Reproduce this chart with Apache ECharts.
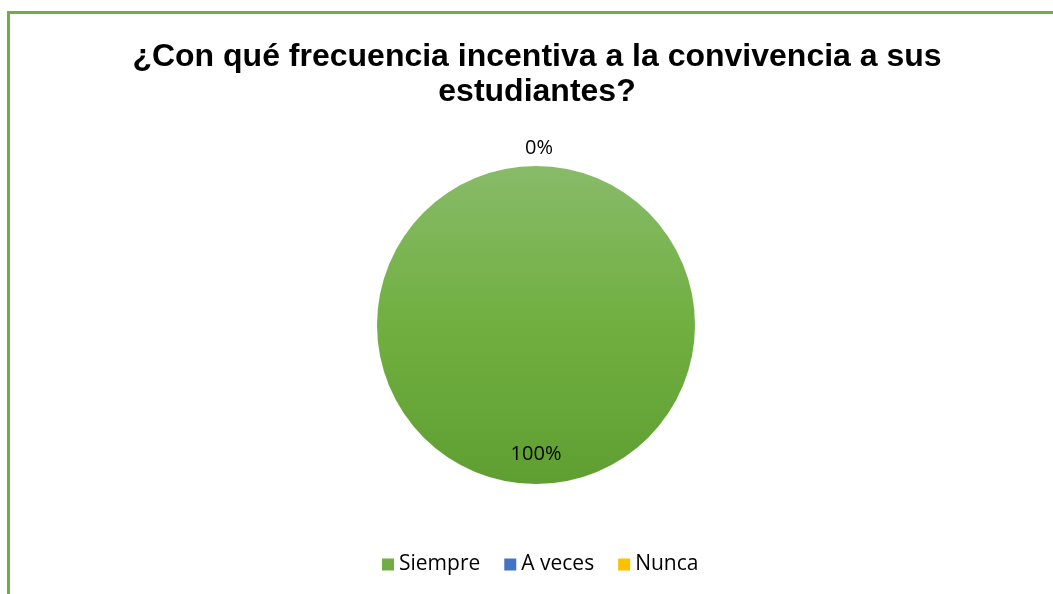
<!DOCTYPE html>
<html>
<head>
<meta charset="utf-8">
<script src="https://cdn.jsdelivr.net/npm/echarts@6/dist/echarts.min.js"></script>
<style>
  html, body { margin: 0; padding: 0; background: #fff; overflow: hidden; }
  #frame {
    position: absolute; left: 7px; top: 11px; width: 1080px; height: 620px;
    border: 3px solid #70AD47; box-sizing: border-box;
  }
  #chart { position: absolute; left: 0; top: 0; width: 1053px; height: 594px; }
</style>
</head>
<body>
<div id="frame"></div>
<div id="chart"></div>
<script>
const title = '¿Con qué frecuencia incentiva a la convivencia a sus\nestudiantes?'
const categories = ['Siempre', 'A veces', 'Nunca']
const values = [100, 0, 0]
const colors = ['#70AD47', '#4472C4', '#FFC000']

const labelFont = '"Open Sans", "Noto Sans", sans-serif'

const chart = echarts.init(document.getElementById('chart'), null, { renderer: 'canvas' })

const pieData = categories.map((name, i) => {
  const item = { name, value: values[i], itemStyle: { color: colors[i] } }
  if (i === 0) {
    item.itemStyle.color = new echarts.graphic.LinearGradient(0, 0, 0, 1, [
      { offset: 0, color: '#88BB69' },
      { offset: 0.5, color: '#70AF40' },
      { offset: 1, color: '#5F9F31' },
    ])
    item.label = { position: 'inside' }
  } else if (i === 2) {
    item.label = { show: false }
  }
  return item
})

chart.setOption({
  animation: false,
  title: {
    text: title,
    left: 532,
    textAlign: 'center',
    top: 35,
    textStyle: {
      fontFamily: '"Liberation Sans", Arial, sans-serif',
      fontWeight: 'bold',
      fontSize: 32,
      lineHeight: 35,
      color: '#000',
    },
  },
  legend: {
    bottom: 14,
    left: 377,
    icon: 'rect',
    itemWidth: 12,
    itemHeight: 12,
    itemGap: 24,
    textStyle: { fontFamily: labelFont, fontSize: 21, color: '#000' },
    data: categories.map((name, i) => ({ name, itemStyle: { color: colors[i] } })),
  },
  series: [{
    type: 'pie',
    center: [536, 325],
    radius: 159,
    startAngle: 90,
    clockwise: true,
    data: pieData,
    label: {
      show: true,
      formatter: '{d}%',
      position: 'outside',
      fontFamily: labelFont,
      fontSize: 20,
      color: '#000',
    },
    labelLine: { show: false, length: 6, length2: 0 },
    labelLayout: (p) => p.dataIndex === 0 ? { dy: 47 } : { dx: -16, dy: -12 },
    emphasis: { disabled: true },
  }],
})
</script>
</body>
</html>
